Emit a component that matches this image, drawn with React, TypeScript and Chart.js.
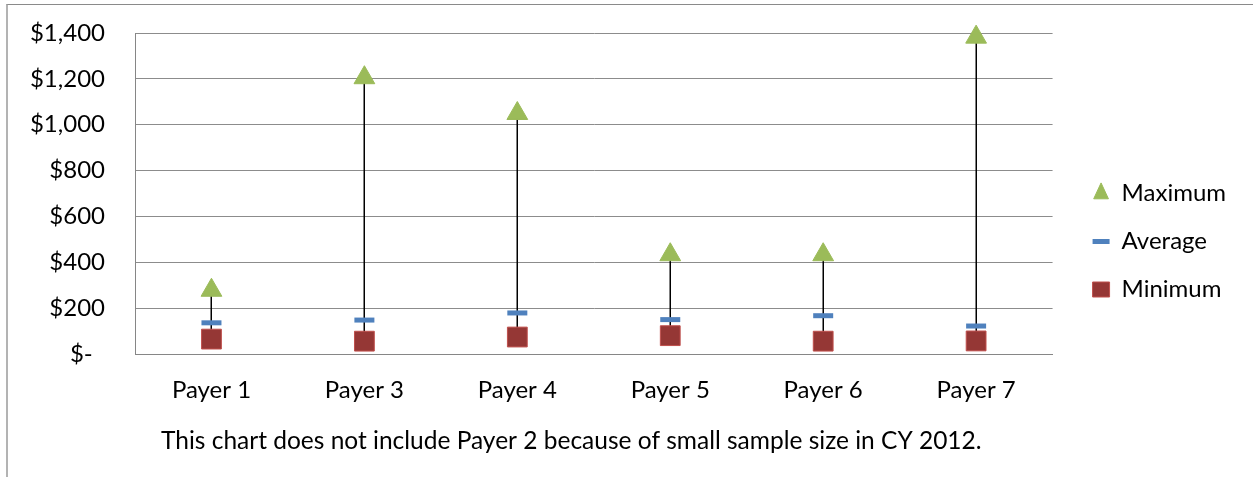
import React, { useEffect, useRef } from 'react';
import { Chart, registerables } from 'chart.js';

Chart.register(...registerables);

// ---- data ----
const categories = ['Payer 1', 'Payer 3', 'Payer 4', 'Payer 5', 'Payer 6', 'Payer 7'];
const maximumValues = [278, 1205, 1049, 433, 433, 1382];
const averageValues = [136, 148, 179, 150, 167, 122];
const minimumValues = [65, 56, 74, 80, 56, 57];
const seriesNames = ['Maximum', 'Average', 'Minimum'];
const yMin = 0;
const yMax = 1400;
const yStep = 200;
const footnoteText = 'This chart does not include Payer 2 because of small sample size in CY 2012.';

// ---- style ----
const FONT = 'Lato';
const FONT_SIZE = 24;
const FOOT_SIZE = 24.5;
const CANVAS_W = 1280;
const CANVAS_H = 472;
const PAD_RIGHT = 52;

const fmtTick = (v: number) => (v === 0 ? '$-  ' : '$' + Number(v).toLocaleString('en-US'));

const hiLoPlugin = {
  id: 'hiLoLines',
  beforeDatasetsDraw(chart: any) {
    const { ctx, scales } = chart;
    const x = scales.x;
    const y = scales.y;
    ctx.save();
    ctx.strokeStyle = '#000000';
    ctx.lineWidth = 1.5;
    maximumValues.forEach((hi, i) => {
      const px = Math.round(x.getPixelForValue(i)) + 0.25;
      ctx.beginPath();
      ctx.moveTo(px, y.getPixelForValue(hi));
      ctx.lineTo(px, y.getPixelForValue(minimumValues[i]));
      ctx.stroke();
    });
    ctx.restore();
  },
};

const footnotePlugin = {
  id: 'footnote',
  afterDraw(chart: any) {
    const { ctx, chartArea } = chart;
    ctx.save();
    ctx.font = `${FOOT_SIZE}px ${FONT}`;
    ctx.fillStyle = '#000000';
    ctx.textAlign = 'center';
    ctx.textBaseline = 'middle';
    const cx = (chartArea.left + chartArea.right) / 2 - 22.5;
    ctx.fillText(footnoteText, cx, chartArea.bottom + 87);
    ctx.restore();
  },
};

export default function App() {
  const ref = useRef<HTMLCanvasElement | null>(null);

  useEffect(() => {
    if (!ref.current) return;
    const font = { family: FONT, size: FONT_SIZE };
    const chart = new Chart(ref.current, {
      type: 'line',
      data: {
        labels: categories,
        datasets: [
          {
            label: seriesNames[0],
            data: maximumValues,
            showLine: false,
            clip: false,
            yAxisID: 'y',
            pointStyle: 'triangle',
            pointRadius: 12,
            pointHoverRadius: 12,
            pointBackgroundColor: '#9BBB59',
            pointBorderColor: '#9BBB59',
            pointBorderWidth: 1,
            backgroundColor: '#9BBB59',
            borderColor: '#9BBB59',
          },
          {
            label: seriesNames[1],
            data: averageValues,
            showLine: false,
            clip: false,
            yAxisID: 'y',
            pointStyle: 'line',
            pointRadius: 10,
            pointHoverRadius: 10,
            pointBackgroundColor: '#4F81BD',
            pointBorderColor: '#4F81BD',
            pointBorderWidth: 5,
            backgroundColor: '#4F81BD',
            borderColor: '#4F81BD',
          },
          {
            label: seriesNames[2],
            data: minimumValues,
            showLine: false,
            clip: false,
            yAxisID: 'y',
            pointStyle: 'rect',
            pointRadius: 14,
            pointHoverRadius: 14,
            pointBackgroundColor: '#953735',
            pointBorderColor: '#C0504D',
            pointBorderWidth: 1,
            backgroundColor: '#953735',
            borderColor: '#C0504D',
          },
        ],
      },
      options: {
        animation: false,
        responsive: false,
        events: [],
        layout: { padding: { top: 28, bottom: 27, left: 0, right: PAD_RIGHT } },
        plugins: {
          legend: {
            position: 'right',
            align: 'center',
            labels: {
              usePointStyle: true,
              boxHeight: 15,
              pointStyleWidth: 17,
              padding: 24,
              font,
              color: '#000000',
            },
          },
          tooltip: { enabled: false },
          title: { display: false },
        },
        scales: {
          x: {
            type: 'category',
            offset: true,
            grid: { display: false, drawTicks: false },
            border: { display: true, color: '#868686', width: 1 },
            ticks: { padding: 22, font, color: '#000000', maxRotation: 0, autoSkip: false },
            afterFit: (s: any) => {
              s.height = 96;
            },
          },
          y: {
            type: 'linear',
            position: 'left',
            min: yMin,
            max: yMax,
            ticks: { stepSize: yStep, padding: 0, font, color: '#000000', callback: (v: any) => fmtTick(Number(v)) },
            grid: { color: '#8c8c8c', lineWidth: 1, drawTicks: true, tickLength: 30, tickColor: 'rgba(0,0,0,0)' },
            border: { display: true, color: '#868686', width: 1 },
            afterFit: (s: any) => {
              s.width = 127;
            },
          },
          spacer: {
            type: 'linear',
            position: 'right',
            display: true,
            grid: { display: false, drawTicks: false },
            ticks: { display: false },
            border: { display: false },
            afterFit: (s: any) => {
              s.width = 16;
            },
          },
        },
      } as any,
      plugins: [hiLoPlugin, footnotePlugin],
    });
    return () => chart.destroy();
  }, []);

  return (
    <div
      style={{
        position: 'absolute',
        left: 6,
        top: 4,
        width: 1245,
        height: 472,
        overflow: 'hidden',
        borderLeft: '2px solid #b3b3b3',
        borderTop: '1px solid #8a8a8a',
        background: '#ffffff',
      }}
    >
      <canvas ref={ref} width={CANVAS_W} height={CANVAS_H} style={{ display: 'block', width: CANVAS_W, height: CANVAS_H }} />
    </div>
  );
}
